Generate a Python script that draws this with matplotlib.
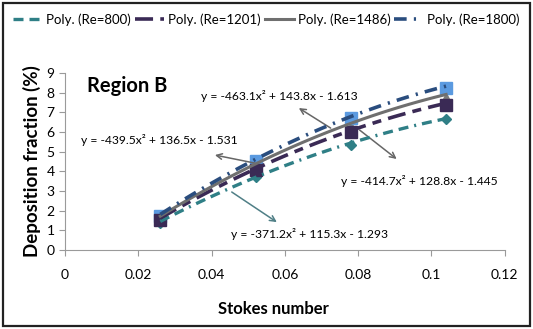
import numpy as np
import matplotlib.pyplot as plt
from matplotlib.lines import Line2D
from matplotlib.patches import Rectangle

plt.rcParams['font.family'] = ['Lato', 'DejaVu Sans']

# Stokes numbers of the measured points
stk = [0.026, 0.052, 0.078, 0.104]

# Deposition fraction (%) for each Reynolds number
dep_800 = [1.35, 3.70, 5.35, 6.65]
dep_1201 = [1.55, 4.05, 6.00, 7.40]
dep_1486 = [1.65, 4.30, 6.35, 7.85]
dep_1800 = [1.75, 4.55, 6.70, 8.25]

# 2nd order trendline coefficients (a, b, c)
fit_800 = [-371.2, 115.3, -1.293]
fit_1201 = [-414.7, 128.8, -1.445]
fit_1486 = [-439.5, 136.5, -1.531]
fit_1800 = [-463.1, 143.8, -1.613]

labels = ['Poly. (Re=800)', 'Poly. (Re=1201)', 'Poly. (Re=1486)', 'Poly. (Re=1800)']

fig = plt.figure(figsize=(5.33, 3.29), dpi=100)
fig.patches.append(Rectangle((0.006, 0.009), 0.988, 0.982, transform=fig.transFigure,
                             fill=False, edgecolor='#222222', linewidth=1.6))
ax = fig.add_axes([0.122, 0.240, 0.825, 0.538])

# markers
ax.plot(stk, dep_800, 'D', color='#2f7f86', ms=5.5, zorder=3)
ax.plot(stk, dep_1201, 's', color='#3a2a55', ms=8, zorder=3)
ax.plot(stk, dep_1486, '^', color='#7a7a7a', ms=5, zorder=2)
ax.plot(stk, dep_1800, 's', color='#5b9ae0', ms=8, zorder=2)

xs = np.linspace(stk[0], stk[-1], 100)
styles = [
    (fit_800, '#2f7f86', (0, (3, 1.8, 3, 1.8, 0.6, 1.8)), 2.4),
    (fit_1201, '#3a2a55', (0, (5, 2, 2.5, 2)), 2.6),
    (fit_1486, '#6f6f6f', '-', 2.2),
    (fit_1800, '#2a4d7e', (0, (3.5, 2, 0.6, 2)), 2.6),
]
handles = []
for (coef, col, ls, lw), lab in zip(styles, labels):
    ax.plot(xs, np.polyval(coef, xs), color=col, linestyle=ls, linewidth=lw, zorder=4)
    handles.append(Line2D([], [], color=col, linestyle=ls, linewidth=lw, label=lab))

ax.set_xlim(0, 0.12)
ax.set_ylim(0, 9)
ax.set_xticks([0, 0.02, 0.04, 0.06, 0.08, 0.1, 0.12])
ax.set_xticklabels(['0', '0.02', '0.04', '0.06', '0.08', '0.1', '0.12'])
ax.set_yticks(range(10))
for s in ['top', 'right']:
    ax.spines[s].set_visible(False)
for s in ['left', 'bottom']:
    ax.spines[s].set_color('#9a9a9a')
ax.tick_params(colors='#9a9a9a', labelcolor='black', labelsize=10, direction='out', length=4)
ax.tick_params(axis='x', pad=10)

ax.set_xlabel('Stokes number', fontsize=12, fontweight='bold')
ax.xaxis.set_label_coords(0.475, -0.29)
ax.set_ylabel('Deposition fraction (%)', fontsize=13.5, fontweight='bold', labelpad=4)
ax.text(0.006, 8.05, 'Region B', fontsize=14.5, fontweight='bold')

# trendline equations with pointer arrows
arrow = dict(arrowstyle='->', color='#666666', lw=1.1, shrinkA=0, shrinkB=0)
eq_kw = dict(fontsize=8.7, va='center')
ax.text(0.0370, 7.83, 'y = -463.1x² + 143.8x - 1.613', **eq_kw)
ax.annotate('', xy=(0.0638, 7.22), xytext=(0.0725, 6.2), arrowprops=arrow)
ax.text(0.0044, 5.59, 'y = -439.5x² + 136.5x - 1.531', **eq_kw)
ax.annotate('', xy=(0.0409, 4.83), xytext=(0.0518, 4.42), arrowprops=arrow)
ax.text(0.0752, 3.5, 'y = -414.7x² + 128.8x - 1.445', **eq_kw)
ax.annotate('', xy=(0.0905, 4.63), xytext=(0.0804, 6.1), arrowprops=arrow)
ax.text(0.0452, 0.81, 'y = -371.2x² + 115.3x - 1.293', **eq_kw)
ax.annotate('', xy=(0.0578, 1.42), xytext=(0.0455, 2.95),
            arrowprops=dict(arrow, color='#4f7f86'))

fig.legend(handles=handles, loc='upper center', bbox_to_anchor=(0.5, 0.975), ncol=4,
           frameon=False, fontsize=9.5, handlelength=2.2, handletextpad=0.3,
           columnspacing=0.3, borderaxespad=0)

fig.savefig('out.png', dpi=100)
